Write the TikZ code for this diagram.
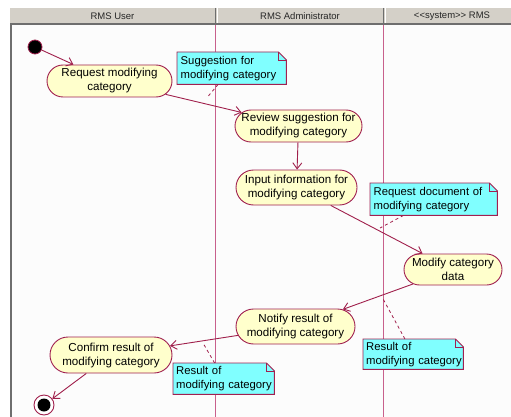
\documentclass[tikz,border=0pt]{standalone}
\usepackage{fontspec}
\setmainfont{Liberation Sans}
\usetikzlibrary{shapes.misc,arrows.meta}
\definecolor{edgec}{HTML}{A0204C}
\definecolor{nodeborder}{HTML}{A02050}
\definecolor{actfill}{HTML}{FFFFCC}
\definecolor{notefill}{HTML}{80FFFF}
\definecolor{lanec}{HTML}{C8608C}
\definecolor{headfill}{HTML}{D4D0C8}
\definecolor{headline}{HTML}{6E6E6E}
\definecolor{lanebg}{HTML}{FCFCFC}
\newcommand\nohyphset{\hyphenpenalty=10000\relax\hbadness=10000\relax\hfuzz=20pt\relax}
\pgfdeclarelayer{bg}
\pgfdeclarelayer{notes}
\pgfsetlayers{bg,notes,main}
\newcommand\notebox[1]{%
  \begin{pgfonlayer}{notes}
  \draw[noteline, fill=notefill] (#1.south west) -- (#1.north west) -- ([xshift=-8pt]#1.north east) -- ([yshift=-8pt]#1.north east) -- (#1.south east) -- cycle;
  \draw[noteline] ([xshift=-8pt]#1.north east) -- ([xshift=-8pt,yshift=-8pt]#1.north east) -- ([yshift=-8pt]#1.north east);
  \end{pgfonlayer}}
\begin{document}
\begin{tikzpicture}[x=1pt,y=-1pt,
  act/.style={rounded rectangle, draw=nodeborder, fill=actfill, line width=0.9pt, align=center,
    font=\fontsize{11.6}{14}\selectfont, inner sep=0pt},
  note/.style={rectangle, anchor=north west, inner xsep=3pt, inner ysep=0pt, align=left,
    font=\fontsize{11.3}{14}\selectfont\nohyphset},
  noteline/.style={draw=nodeborder, line width=0.9pt},
  flow/.style={draw=edgec, line width=0.9pt, -{Straight Barb[length=6pt,width=9pt]}},
  notelink/.style={draw=edgec, line width=0.8pt, dash pattern=on 3pt off 3pt},
  lane/.style={draw=lanec, line width=1.3pt},
  headtext/.style={font=\fontsize{9.5}{11}\selectfont, text=black!85}
]
\useasboundingbox (0,0) rectangle (511,417);
\begin{pgfonlayer}{bg}
  \fill[white] (0,0) rectangle (511,417);
  \fill[lanebg] (10,24) rectangle (511,417);
  \fill[headfill] (10,8) rectangle (511,24);
  \draw[headline, line width=2pt] (10,24.5) -- (511,24.5);
  \draw[headline, line width=2pt] (11,24) -- (11,417);
  \draw[headline, line width=1.5pt] (215.5,8) -- (215.5,24);
  \draw[headline, line width=1.5pt] (383.5,8) -- (383.5,24);
  \draw[white, line width=1pt] (217.5,8) -- (217.5,23);
  \draw[white, line width=1pt] (385.5,8) -- (385.5,23);
  \draw[lane] (215.5,25.5) -- (215.5,417);
  \draw[lane] (383.5,25.5) -- (383.5,417);
\end{pgfonlayer}
\node[headtext] (h1) at (112.5,16.5) {RMS User};
\node[headtext] (h2) at (300,16.5) {RMS Administrator};
\node[headtext] (h3) at (452,16.5) {<{}<system>{}> RMS};

\node[circle, fill=black, draw=edgec, line width=0.8pt, minimum size=14pt, inner sep=0pt] (start) at (35,47) {};
\node[act, minimum width=125pt, minimum height=32pt] (req) at (109.5,81) {Request modifying\\category};
\node[act, minimum width=127pt, minimum height=32pt] (review) at (298.5,126) {Review suggestion for\\modifying category};
\node[act, minimum width=121pt, minimum height=35pt] (input) at (296.5,187.5) {Input information for\\modifying category};
\node[act, minimum width=98pt, minimum height=31pt] (modify) at (453,269.5) {Modify category\\data};
\node[act, minimum width=119pt, minimum height=35pt] (notify) at (295.5,326.5) {Notify result of\\modifying category};
\node[act, minimum width=122pt, minimum height=36pt] (confirm) at (111,355) {Confirm result of\\modifying category};
\node[circle, draw=edgec, fill=white, line width=0.9pt, minimum size=20pt, inner sep=0pt] (end) at (44,405) {};
\fill[black] (end.center) circle (6.5pt);

\node[note, minimum width=109pt, minimum height=32pt, text width=102pt] (n1) at (177,52) {Suggestion~for\\modifying~category};
\node[note, minimum width=127pt, minimum height=32pt, text width=120pt] (n2) at (370,183) {Request~document~of\\modifying~category};
\node[note, minimum width=100pt, minimum height=30pt, text width=94pt] (n3) at (363,339) {Result~of\\modifying~category};
\node[note, minimum width=101pt, minimum height=31pt, text width=95pt] (n4) at (173,363) {Result~of\\modifying~category};
\notebox{n1}
\notebox{n2}
\notebox{n3}
\notebox{n4}

\coordinate (d1) at (206.7,98);
\coordinate (d2) at (380,228);
\coordinate (d3) at (382,297);
\coordinate (d4) at (203,343);

\draw[flow] (start) -- (req);
\draw[flow] (req) -- (review);
\draw[flow] (review) -- (input);
\draw[flow] (input) -- (modify);
\draw[flow] (modify) -- (notify);
\draw[flow] (notify) -- (confirm);
\draw[flow] (confirm) -- (end);

\draw[notelink] (n1) -- (d1);
\draw[notelink] (n2) -- (d2);
\draw[notelink] (n3) -- (d3);
\draw[notelink] (n4) -- (d4);
\end{tikzpicture}
\end{document}
